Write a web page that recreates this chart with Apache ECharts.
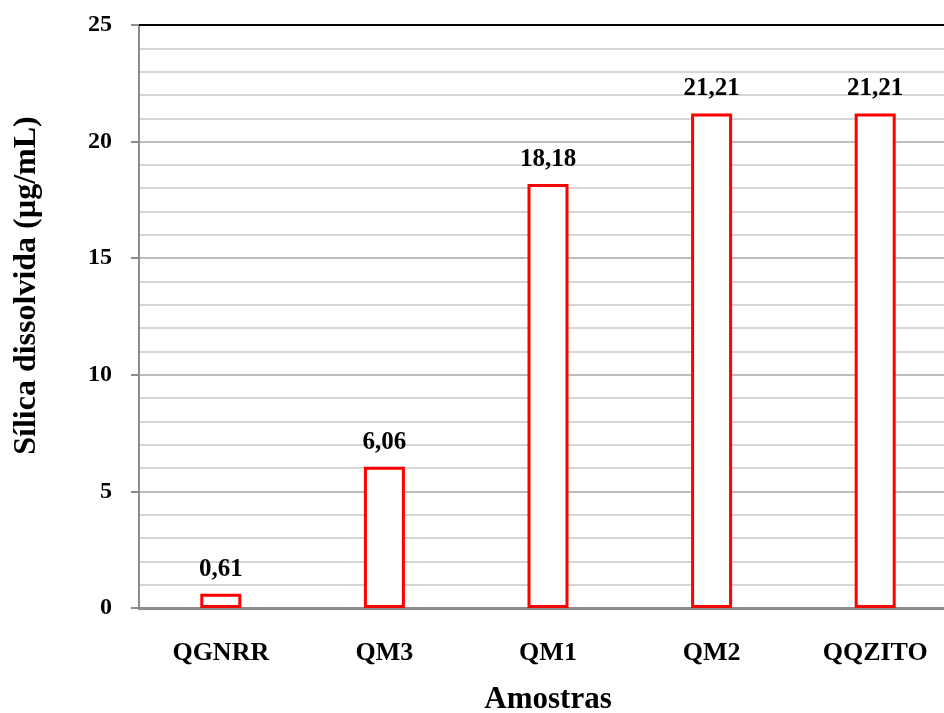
<!DOCTYPE html>
<html><head><meta charset="utf-8">
<script src="https://cdn.jsdelivr.net/npm/echarts@6/dist/echarts.min.js"></script>
<style>html,body{margin:0;padding:0;background:#fff}#c{width:944px;height:713px}</style>
</head><body><div id="c"></div>
<script>
const categories = ['QGNRR','QM3','QM1','QM2','QQZITO'];
const values = [0.61, 6.06, 18.18, 21.21, 21.21];
const yMin = 0, yMax = 25, yStep = 5;
const FONT = '"Liberation Serif","Times New Roman",serif';
const chart = echarts.init(document.getElementById('c'));
chart.setOption({
  animation: false,
  grid: {left: 139, top: 25, width: 818, height: 583, containLabel: false, outerBoundsMode: 'none'},
  xAxis: [{
    type: 'category', data: categories,
    axisLine: {lineStyle: {color: '#8c8c8c', width: 3}},
    axisTick: {show: false},
    axisLabel: {fontFamily: FONT, fontWeight: 'bold', fontSize: 26, color: '#000', margin: 32},
    name: 'Amostras', nameLocation: 'middle', nameGap: 76,
    nameTextStyle: {fontFamily: FONT, fontWeight: 'bold', fontSize: 31, color: '#000'}
  },{
    type: 'category', data: categories, position: 'top',
    axisLine: {lineStyle: {color: '#000', width: 2}},
    axisTick: {show: false}, axisLabel: {show: false}
  }],
  yAxis: {
    type: 'value', min: yMin, max: yMax, interval: yStep,
    axisLine: {show: true, lineStyle: {color: '#8c8c8c', width: 2}},
    axisTick: {show: true, length: 8, lineStyle: {color: '#8c8c8c', width: 2}},
    axisLabel: {fontFamily: FONT, fontWeight: 'bold', fontSize: 24, color: '#000', margin: 27},
    splitLine: {lineStyle: {color: '#bdbdbd', width: 2}},
    minorTick: {show: false, splitNumber: 5},
    minorSplitLine: {show: true, lineStyle: {color: '#c8c8c8', width: 1.5}},
    name: 'Sílica dissolvida (µg/mL)', nameLocation: 'middle', nameGap: 96, nameRotate: 90,
    nameTextStyle: {fontFamily: FONT, fontWeight: 'bold', fontSize: 32, color: '#000', padding: [0, 0, 0, 62]}
  },
  series: [{
    type: 'bar', data: values, barWidth: 41,
    itemStyle: {color: '#fff', borderColor: '#ff0000', borderWidth: 3},
    label: {show: true, position: 'top', distance: 12,
      fontFamily: FONT, fontWeight: 'bold', fontSize: 25, color: '#000',
      formatter: p => p.value.toFixed(2).replace('.', ',')}
  }]
});
</script></body></html>
